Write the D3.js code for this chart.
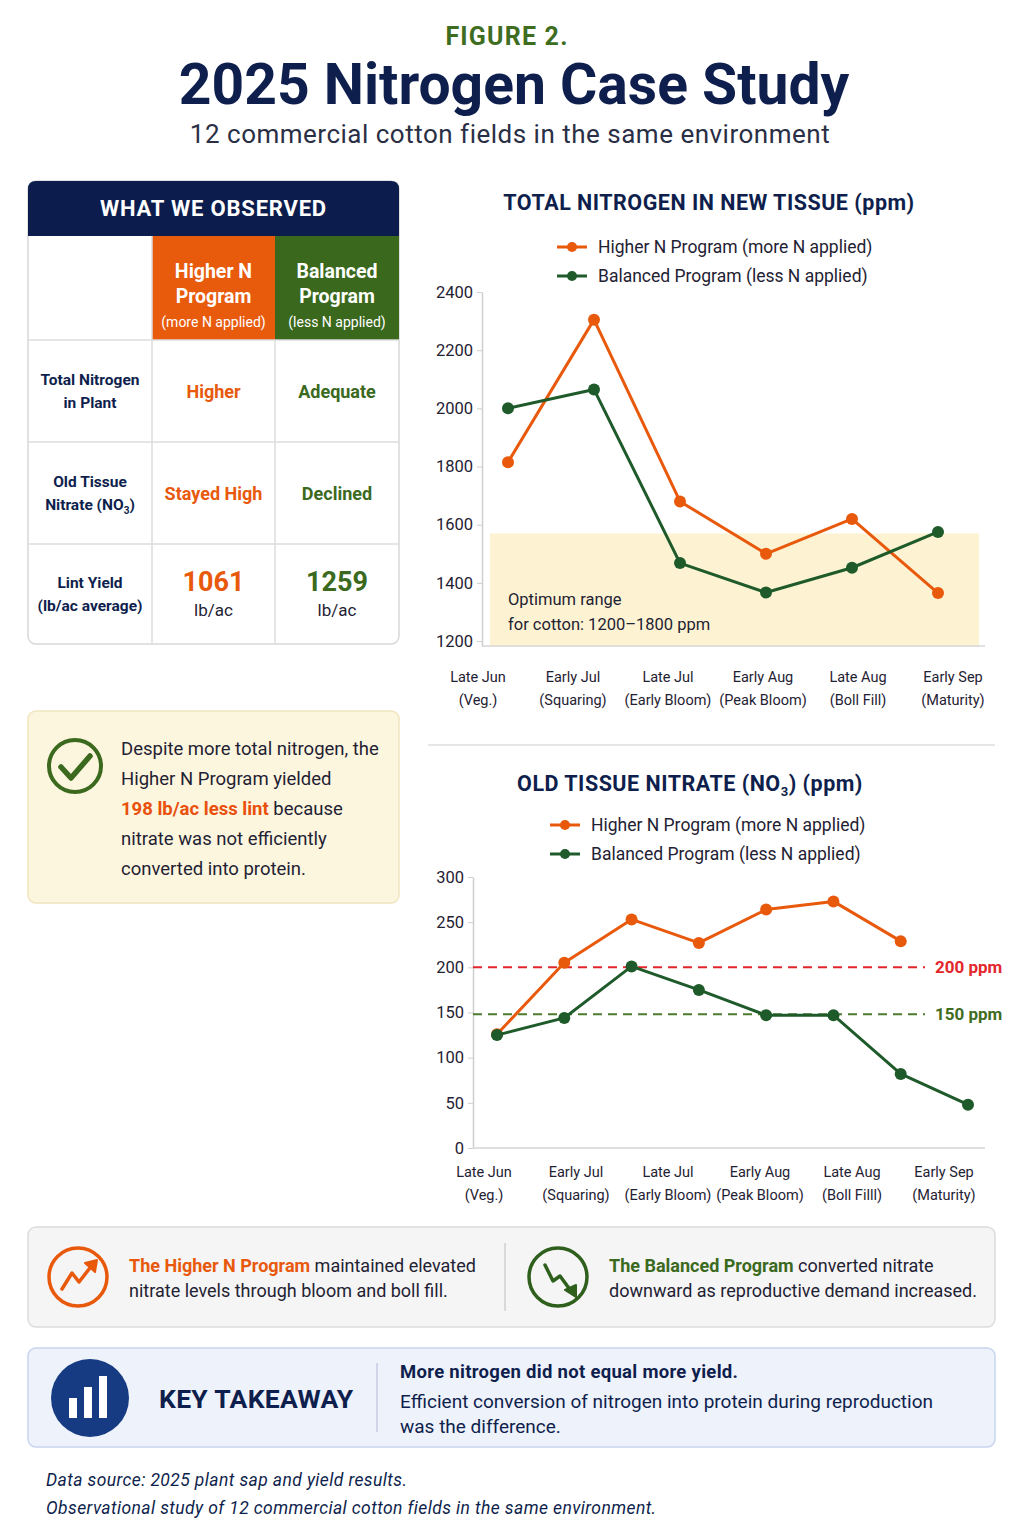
<!DOCTYPE html>
<html>
<head>
<meta charset="utf-8">
<script src="https://cdn.jsdelivr.net/npm/d3@7"></script>
<style>
  html, body { margin: 0; padding: 0; background: #ffffff; }
  svg { display: block; font-family: Roboto, "Noto Sans", sans-serif; }
</style>
</head>
<body>
<svg id="fig" width="1024" height="1536"></svg>
<script>
// ---------------- DATA ----------------
const stages = ["Late Jun", "Early Jul", "Late Jul", "Early Aug", "Late Aug", "Early Sep"];
const stageNotesTotal = ["(Veg.)", "(Squaring)", "(Early Bloom)", "(Peak Bloom)", "(Boll Fill)", "(Maturity)"];
const stageNotesNitrate = ["(Veg.)", "(Squaring)", "(Early Bloom)", "(Peak Bloom)", "(Boll Filll)", "(Maturity)"];

const seriesNames = ["Higher N Program (more N applied)", "Balanced Program (less N applied)"];

// Total nitrogen in new tissue (ppm), one value per stage
const totalNHigher   = [1815, 2305, 1680, 1500, 1620, 1365];
const totalNBalanced = [2000, 2065, 1468, 1367, 1452, 1575];
const totalNTicks = [1200, 1400, 1600, 1800, 2000, 2200, 2400];
const totalNDomain = [1183, 2400];
const optimumBandTop = 1570;

// Old tissue nitrate (ppm), 8 sampling events
const nitrateSamples = [0, 1, 2, 3, 4, 5, 6, 7];
const nitrateHigher   = [126, 205, 253, 227, 264, 273, 229, null];
const nitrateBalanced = [125, 144, 201, 175, 147, 147, 82, 48];
const nitrateTicks = [0, 50, 100, 150, 200, 250, 300];
const nitrateDomain = [0, 300];
const thresholdValues = [200, 148];
const thresholdLabels = ["200 ppm", "150 ppm"];

// Table
const tableRowLabels = [["Total Nitrogen", "in Plant"], ["Old Tissue", "Nitrate (NO\u2083)"], ["Lint Yield", "(lb/ac average)"]];
const tableHigher = ["Higher", "Stayed High", "1061"];
const tableBalanced = ["Adequate", "Declined", "1259"];

// ---------------- STYLE ----------------
const ORANGE = "#e8590c";
const GREEN_LINE = "#1e5a2a";
const GREEN = "#3b6a1e";
const NAVY = "#0f1f4d";
const TEXT = "#1f2233";

const svg = d3.select("#fig");
svg.append("rect").attr("width", 1024).attr("height", 1536).attr("fill", "#ffffff");

// ---------------- HEADER ----------------
svg.append("text").attr("x", 507).attr("y", 45).attr("text-anchor", "middle")
  .attr("font-size", 25).attr("font-weight", 700).attr("letter-spacing", 1.2).attr("fill", "#3f6d1f").text("FIGURE 2.");
svg.append("text").attr("x", 514).attr("y", 104).attr("text-anchor", "middle")
  .attr("font-size", 57).attr("font-weight", 700).attr("fill", NAVY).attr("letter-spacing", 0)
  .text("2025 Nitrogen Case Study");
svg.append("text").attr("x", 510).attr("y", 143).attr("text-anchor", "middle")
  .attr("font-size", 26).attr("letter-spacing", 0.5).attr("fill", "#2a2f45").text("12 commercial cotton fields in the same environment");

// ---------------- TABLE ----------------
const T = svg.append("g");
const tx0 = 28, tx1 = 399, ty0 = 181, ty1 = 644;
const colX = [28, 152, 275, 399];
const rowY = [236, 340, 442, 544, 644];
T.append("rect").attr("x", tx0).attr("y", ty0).attr("width", tx1 - tx0).attr("height", ty1 - ty0)
  .attr("rx", 8).attr("fill", "#ffffff").attr("stroke", "#d8d8d8").attr("stroke-width", 1.5);
T.append("path").attr("d", `M${tx0},${rowY[0]} V${ty0 + 8} Q${tx0},${ty0} ${tx0 + 8},${ty0} H${tx1 - 8} Q${tx1},${ty0} ${tx1},${ty0 + 8} V${rowY[0]} Z`)
  .attr("fill", "#0c1d4d");
T.append("text").attr("x", (tx0 + tx1) / 2).attr("y", 216).attr("text-anchor", "middle")
  .attr("font-size", 22).attr("font-weight", 700).attr("letter-spacing", 0.8).attr("fill", "#ffffff").text("WHAT WE OBSERVED");
T.append("rect").attr("x", colX[1]).attr("y", rowY[0]).attr("width", colX[2] - colX[1]).attr("height", rowY[1] - rowY[0]).attr("fill", "#e85a0c");
T.append("rect").attr("x", colX[2]).attr("y", rowY[0]).attr("width", colX[3] - colX[2]).attr("height", rowY[1] - rowY[0]).attr("fill", "#3a681d");
[rowY[1], rowY[2], rowY[3]].forEach(y => T.append("line").attr("x1", tx0).attr("x2", tx1).attr("y1", y).attr("y2", y).attr("stroke", "#dcdcdc").attr("stroke-width", 1.5));
[colX[1], colX[2]].forEach(x => T.append("line").attr("x1", x).attr("x2", x).attr("y1", rowY[1]).attr("y2", ty1).attr("stroke", "#dcdcdc").attr("stroke-width", 1.5));
T.append("line").attr("x1", colX[1]).attr("x2", colX[1]).attr("y1", rowY[0]).attr("y2", rowY[1]).attr("stroke", "#dcdcdc").attr("stroke-width", 1.5);

function headCell(cx, lines, sub) {
  lines.forEach((l, i) => T.append("text").attr("x", cx).attr("y", 278 + i * 25).attr("text-anchor", "middle")
    .attr("font-size", 19.5).attr("font-weight", 700).attr("fill", "#ffffff").text(l));
  T.append("text").attr("x", cx).attr("y", 327).attr("text-anchor", "middle")
    .attr("font-size", 14).attr("fill", "#ffffff").text(sub);
}
headCell((colX[1] + colX[2]) / 2, ["Higher N", "Program"], "(more N applied)");
headCell((colX[2] + colX[3]) / 2, ["Balanced", "Program"], "(less N applied)");

tableRowLabels.forEach((lines, r) => {
  const cy = (rowY[r + 1] + rowY[r + 2]) / 2;
  const t = T.append("text").attr("x", (colX[0] + colX[1]) / 2).attr("text-anchor", "middle")
    .attr("font-size", 15.5).attr("font-weight", 700).attr("fill", NAVY);
  lines.forEach((l, i) => {
    const ts = t.append("tspan").attr("x", (colX[0] + colX[1]) / 2).attr("y", cy - 6 + i * 23);
    if (l.indexOf("\u2083") >= 0) {
      ts.text("Nitrate (NO");
      ts.append("tspan").attr("font-size", 10).attr("dy", 4).text("3");
      t.append("tspan").attr("dy", -4).text(")");
    } else ts.text(l);
  });
});
[0, 1].forEach(r => {
  const cy = (rowY[r + 1] + rowY[r + 2]) / 2 + 7;
  T.append("text").attr("x", (colX[1] + colX[2]) / 2).attr("y", cy).attr("text-anchor", "middle")
    .attr("font-size", 18).attr("font-weight", 700).attr("fill", ORANGE).text(tableHigher[r]);
  T.append("text").attr("x", (colX[2] + colX[3]) / 2).attr("y", cy).attr("text-anchor", "middle")
    .attr("font-size", 18).attr("font-weight", 700).attr("fill", GREEN).text(tableBalanced[r]);
});
[[tableHigher[2], ORANGE, (colX[1] + colX[2]) / 2], [tableBalanced[2], GREEN, (colX[2] + colX[3]) / 2]].forEach(([v, c, cx]) => {
  T.append("text").attr("x", cx).attr("y", 591).attr("text-anchor", "middle")
    .attr("font-size", 27).attr("font-weight", 700).attr("fill", c).text(v);
  T.append("text").attr("x", cx).attr("y", 616).attr("text-anchor", "middle")
    .attr("font-size", 17).attr("fill", TEXT).text("lb/ac");
});

// ---------------- NOTE BOX ----------------
svg.append("rect").attr("x", 28).attr("y", 711).attr("width", 371).attr("height", 192).attr("rx", 8)
  .attr("fill", "#fdf6df").attr("stroke", "#f0e5bf").attr("stroke-width", 1.5);
svg.append("circle").attr("cx", 75).attr("cy", 766).attr("r", 26).attr("fill", "none").attr("stroke", "#3b6a1e").attr("stroke-width", 4);
svg.append("path").attr("d", "M61,767 L71,778 L90,756").attr("fill", "none").attr("stroke", "#3b6a1e")
  .attr("stroke-width", 5.5).attr("stroke-linecap", "round").attr("stroke-linejoin", "round");
const noteLines = [
  [["Despite more total nitrogen, the", TEXT, 400]],
  [["Higher N Program yielded", TEXT, 400]],
  [["198 lb/ac less lint", "#e8500c", 700], [" because", TEXT, 400]],
  [["nitrate was not efficiently", TEXT, 400]],
  [["converted into protein.", TEXT, 400]]
];
noteLines.forEach((parts, i) => {
  const t = svg.append("text").attr("x", 121).attr("y", 755 + i * 30).attr("font-size", 18.5);
  parts.forEach(([s, c, w]) => t.append("tspan").attr("fill", c).attr("font-weight", w).text(s));
});

// ---------------- CHART HELPERS ----------------
function legend(x, y, gap) {
  [ORANGE, GREEN_LINE].forEach((c, i) => {
    const yy = y + i * gap;
    svg.append("line").attr("x1", x).attr("x2", x + 30).attr("y1", yy).attr("y2", yy).attr("stroke", c).attr("stroke-width", 3);
    svg.append("circle").attr("cx", x + 15).attr("cy", yy).attr("r", 5).attr("fill", c);
    svg.append("text").attr("x", x + 41).attr("y", yy + 6).attr("font-size", 17.5).attr("fill", TEXT).text(seriesNames[i]);
  });
}
function styleAxis(g) {
  g.select(".domain").attr("stroke", "#cfcfcf").attr("stroke-width", 1.5);
  g.selectAll(".tick line").attr("stroke", "#cfcfcf");
  g.selectAll(".tick text").attr("font-size", 16.5).attr("fill", TEXT).attr("font-family", "Roboto, sans-serif");
}
function drawSeries(g, data, xs, ys, color, xKey) {
  const pts = data.map((v, i) => ({ k: xKey[i], v })).filter(d => d.v !== null);
  const line = d3.line().x(d => xs(d.k)).y(d => ys(d.v));
  g.append("path").datum(pts).attr("d", line).attr("fill", "none").attr("stroke", color)
    .attr("stroke-width", 3).attr("stroke-linejoin", "round");
  g.selectAll(null).data(pts).enter().append("circle")
    .attr("cx", d => xs(d.k)).attr("cy", d => ys(d.v)).attr("r", 6).attr("fill", color);
}
function stageLabels(g, xs, notes, y) {
  stages.forEach((s, i) => {
    g.append("text").attr("x", xs(s)).attr("y", y).attr("text-anchor", "middle").attr("font-size", 14.5).attr("fill", TEXT).text(s);
    g.append("text").attr("x", xs(s)).attr("y", y + 23).attr("text-anchor", "middle").attr("font-size", 14.5).attr("fill", TEXT).text(notes[i]);
  });
}

// ---------------- CHART 1: TOTAL NITROGEN ----------------
svg.append("text").attr("x", 709).attr("y", 210).attr("text-anchor", "middle")
  .attr("font-size", 21.5).attr("font-weight", 700).attr("letter-spacing", 0.5).attr("fill", NAVY).text("TOTAL NITROGEN IN NEW TISSUE (ppm)");
legend(557, 247, 29);

const c1 = svg.append("g");
const y1 = d3.scaleLinear().domain(totalNDomain).range([646, 292]);
const x1Axis = d3.scalePoint().domain(stages).range([478, 953]);
const x1 = d3.scalePoint().domain(stages).range([508, 938]);
const plotLeft1 = 482, plotRight1 = 985;

c1.append("rect").attr("x", 490).attr("y", y1(optimumBandTop)).attr("width", 489)
  .attr("height", y1(totalNDomain[0]) - y1(optimumBandTop)).attr("fill", "#fdf3d2");
c1.append("text").attr("x", 508).attr("y", 605).attr("font-size", 16.5).attr("fill", TEXT).text("Optimum range");
c1.append("text").attr("x", 508).attr("y", 630).attr("font-size", 16.5).attr("fill", TEXT).text("for cotton: 1200\u20131800 ppm");

const gy1 = c1.append("g").attr("transform", `translate(${plotLeft1},0)`)
  .call(d3.axisLeft(y1).tickValues(totalNTicks).tickFormat(d3.format("d")).tickSize(5).tickPadding(4).tickSizeOuter(0));
styleAxis(gy1);
c1.append("line").attr("x1", plotLeft1).attr("x2", plotRight1).attr("y1", 646).attr("y2", 646).attr("stroke", "#d6d6d6").attr("stroke-width", 1.5);
stageLabels(c1, x1Axis, stageNotesTotal, 682);
drawSeries(c1, totalNHigher, x1, y1, ORANGE, stages);
drawSeries(c1, totalNBalanced, x1, y1, GREEN_LINE, stages);

svg.append("line").attr("x1", 428).attr("x2", 995).attr("y1", 745).attr("y2", 745).attr("stroke", "#dedede").attr("stroke-width", 1.5);

// ---------------- CHART 2: OLD TISSUE NITRATE ----------------
const t2 = svg.append("text").attr("x", 690).attr("y", 791).attr("text-anchor", "middle")
  .attr("font-size", 21.5).attr("font-weight", 700).attr("letter-spacing", 0.5).attr("fill", NAVY);
t2.append("tspan").text("OLD TISSUE NITRATE (NO");
t2.append("tspan").attr("font-size", 13).attr("dy", 5).text("3");
t2.append("tspan").attr("dy", -5).text(") (ppm)");
legend(550, 825, 29);

const c2 = svg.append("g");
const y2 = d3.scaleLinear().domain(nitrateDomain).range([1148, 877]);
const x2Axis = d3.scalePoint().domain(stages).range([484, 944]);
const x2 = d3.scalePoint().domain(nitrateSamples).range([497, 968]);
const plotLeft2 = 473, plotRight2 = 985;

const gy2 = c2.append("g").attr("transform", `translate(${plotLeft2},0)`)
  .call(d3.axisLeft(y2).tickValues(nitrateTicks).tickFormat(d3.format("d")).tickSize(5).tickPadding(4).tickSizeOuter(0));
styleAxis(gy2);
c2.append("line").attr("x1", plotLeft2).attr("x2", plotRight2).attr("y1", 1148).attr("y2", 1148).attr("stroke", "#d6d6d6").attr("stroke-width", 1.5);
stageLabels(c2, x2Axis, stageNotesNitrate, 1177);

const thrColors = ["#e3262b", "#4d7a2c"];
const thrText = ["#e3262b", "#3f6d1f"];
thresholdValues.forEach((v, i) => {
  c2.append("line").attr("x1", plotLeft2).attr("x2", 925).attr("y1", y2(v)).attr("y2", y2(v))
    .attr("stroke", thrColors[i]).attr("stroke-width", 2).attr("stroke-dasharray", "9,6");
  c2.append("text").attr("x", 935).attr("y", y2(v) + 6).attr("font-size", 17).attr("font-weight", 700)
    .attr("fill", thrText[i]).text(thresholdLabels[i]);
});
drawSeries(c2, nitrateHigher, x2, y2, ORANGE, nitrateSamples);
drawSeries(c2, nitrateBalanced, x2, y2, GREEN_LINE, nitrateSamples);

// ---------------- SUMMARY BOX ----------------
svg.append("rect").attr("x", 28).attr("y", 1227).attr("width", 967).attr("height", 100).attr("rx", 8)
  .attr("fill", "#f5f5f5").attr("stroke", "#dcdcdc").attr("stroke-width", 1.5);
svg.append("line").attr("x1", 505).attr("x2", 505).attr("y1", 1243).attr("y2", 1311).attr("stroke", "#cfcfcf").attr("stroke-width", 1.5);
svg.append("circle").attr("cx", 78).attr("cy", 1277).attr("r", 29).attr("fill", "none").attr("stroke", ORANGE).attr("stroke-width", 3.5);
svg.append("path").attr("d", "M62,1289 L72,1273 L79,1282 L93,1264").attr("fill", "none").attr("stroke", ORANGE)
  .attr("stroke-width", 3.5).attr("stroke-linejoin", "round").attr("stroke-linecap", "round");
svg.append("path").attr("d", "M85,1263 L97,1260 L95,1272 Z").attr("fill", ORANGE).attr("stroke", ORANGE).attr("stroke-width", 2).attr("stroke-linejoin", "round");
svg.append("circle").attr("cx", 558).attr("cy", 1277).attr("r", 29).attr("fill", "none").attr("stroke", "#2f5f1c").attr("stroke-width", 3.5);
svg.append("path").attr("d", "M545,1265 L553,1281 L560,1276 L571,1291").attr("fill", "none").attr("stroke", "#2f5f1c")
  .attr("stroke-width", 3.5).attr("stroke-linejoin", "round").attr("stroke-linecap", "round");
svg.append("path").attr("d", "M565,1290 L576,1297 L576,1285 Z").attr("fill", "#2f5f1c").attr("stroke", "#2f5f1c").attr("stroke-width", 2).attr("stroke-linejoin", "round");

function richText(x, y, parts, size) {
  const t = svg.append("text").attr("x", x).attr("y", y).attr("font-size", size);
  parts.forEach(([s, c, w]) => t.append("tspan").attr("fill", c).attr("font-weight", w).text(s));
}
richText(129, 1272, [["The Higher N Program", ORANGE, 700], [" maintained elevated", TEXT, 400]], 18);
richText(129, 1297, [["nitrate levels through bloom and boll fill.", TEXT, 400]], 18);
richText(609, 1272, [["The Balanced Program", "#3b6a1e", 700], [" converted nitrate", TEXT, 400]], 18);
richText(609, 1297, [["downward as reproductive demand increased.", TEXT, 400]], 18);

// ---------------- KEY TAKEAWAY ----------------
svg.append("rect").attr("x", 28).attr("y", 1348).attr("width", 967).attr("height", 99).attr("rx", 8)
  .attr("fill", "#eef2fb").attr("stroke", "#c8d4ee").attr("stroke-width", 1.5);
svg.append("circle").attr("cx", 90).attr("cy", 1398).attr("r", 39).attr("fill", "#163b82");
[[69, 1398, 8, 20], [84, 1387, 8, 31], [99, 1376, 8, 42]].forEach(([x, y, w, h]) =>
  svg.append("rect").attr("x", x).attr("y", y).attr("width", w).attr("height", h).attr("fill", "#ffffff"));
svg.append("text").attr("x", 159).attr("y", 1408).attr("font-size", 26.5).attr("font-weight", 700).attr("letter-spacing", 0.3).attr("fill", NAVY).text("KEY TAKEAWAY");
svg.append("line").attr("x1", 377).attr("x2", 377).attr("y1", 1363).attr("y2", 1432).attr("stroke", "#c6cde0").attr("stroke-width", 1.5);
svg.append("text").attr("x", 400).attr("y", 1378).attr("font-size", 18.5).attr("font-weight", 700).attr("letter-spacing", 0.3).attr("fill", NAVY).text("More nitrogen did not equal more yield.");
svg.append("text").attr("x", 400).attr("y", 1408).attr("font-size", 19).attr("fill", NAVY).text("Efficient conversion of nitrogen into protein during reproduction");
svg.append("text").attr("x", 400).attr("y", 1433).attr("font-size", 19).attr("fill", NAVY).text("was the difference.");

// ---------------- FOOTER ----------------
svg.append("text").attr("x", 46).attr("y", 1486).attr("font-size", 17.5).attr("letter-spacing", 0.4).attr("font-style", "italic").attr("fill", NAVY).text("Data source: 2025 plant sap and yield results.");
svg.append("text").attr("x", 46).attr("y", 1514).attr("font-size", 17.5).attr("letter-spacing", 0.4).attr("font-style", "italic").attr("fill", NAVY).text("Observational study of 12 commercial cotton fields in the same environment.");
</script>
</body>
</html>
